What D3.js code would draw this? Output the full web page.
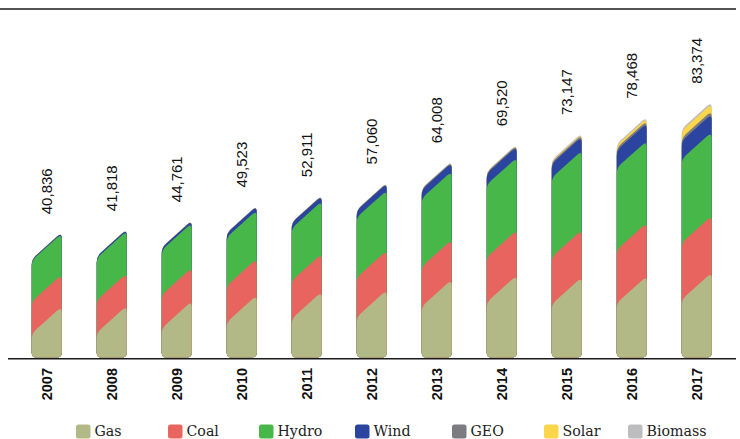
<!DOCTYPE html>
<html>
<head>
<meta charset="utf-8">
<script src="https://cdn.jsdelivr.net/npm/d3@7"></script>
<style>
  body { margin: 0; background: #fff; }
  svg { display: block; }
</style>
</head>
<body>
<svg id="chart" width="740" height="439"></svg>
<script>
// Installed capacity by source (MW), 2007–2017
const years   = ["2007","2008","2009","2010","2011","2012","2013","2014","2015","2016","2017"];
const totals  = [40836, 41818, 44761, 49523, 52911, 57060, 64008, 69520, 73147, 78468, 83374];
const gas     = [16631, 16837, 18358, 20271, 21416, 21970, 25408, 26814, 26158, 26529, 27703];
const coal    = [10400, 10600, 10900, 11900, 12400, 12900, 13000, 14700, 15400, 17400, 18500];
const hydro   = [13395, 13829, 14553, 15831, 17137, 19609, 22289, 23643, 25868, 26681, 27273];
const wind    = [345, 480, 792, 1320, 1729, 2261, 2760, 3630, 4503, 5751, 5900];
const geo     = [23, 30, 77, 94, 114, 162, 311, 405, 624, 821, 1064];
const solar   = [0, 0, 0, 0, 0, 0, 3, 40, 249, 819, 2300];
const biomass = [42, 42, 81, 107, 115, 158, 237, 288, 345, 467, 634];

const seriesNames  = ["Gas", "Coal", "Hydro", "Wind", "GEO", "Solar", "Biomass"];
const seriesValues = [gas, coal, hydro, wind, geo, solar, biomass];
const seriesColors = ["#b2b986", "#e8645f", "#47b74a", "#2a44a0", "#7c7c80", "#fbd54a", "#bdbdc0"];

// legend slot offsets (px from the left edge)
const legendX = [76, 168, 259, 355, 452, 544, 628];

const svg = d3.select("#chart");

const x = d3.scaleBand()
  .domain(years)
  .range([14.2, 729.2])
  .paddingInner(0.5385)
  .paddingOuter(0.2692);

const y = d3.scaleLinear().domain([0, 90000]).range([357.5, 81.4]);

const rows = years.map((yr, i) => {
  const r = { year: yr };
  seriesNames.forEach((s, k) => r[s] = seriesValues[k][i]);
  return r;
});
const stacked = d3.stack().keys(seriesNames)(rows);

// frame line across the top
svg.append("line").attr("x1", 0).attr("x2", 736).attr("y1", 9).attr("y2", 9)
  .attr("stroke", "#1a1a1a").attr("stroke-width", 1.4);

// bar with flat rounded bottom and slanted, rounded top
const skew = 27, rTop = 6, rBot = 5;
function barPath(x0, w, yb, yr) {
  const x1 = x0 + w, yl = yr + skew;
  const len = Math.hypot(w, skew), ux = w / len, uy = skew / len;
  return `M${x0},${yb - rBot}` +
    `L${x0},${yl + rTop}` +
    `Q${x0},${yl} ${x0 + ux * rTop},${yl - uy * rTop}` +
    `L${x1 - ux * rTop},${yr + uy * rTop}` +
    `Q${x1},${yr} ${x1},${yr + rTop}` +
    `L${x1},${yb - rBot}` +
    `Q${x1},${yb} ${x1 - rBot},${yb}` +
    `L${x0 + rBot},${yb}` +
    `Q${x0},${yb} ${x0},${yb - rBot}Z`;
}

const bars = svg.append("g");
years.forEach((yr, i) => {
  const g = bars.append("g");
  // cumulative shapes, tallest first so lower layers sit in front
  for (let k = stacked.length - 1; k >= 0; k--) {
    const d = stacked[k][i];
    g.append("path")
      .attr("d", barPath(x(yr), x.bandwidth(), y(0), y(d[1])))
      .attr("fill", seriesColors[k]);
  }
});

// baseline
svg.append("line").attr("x1", 8).attr("x2", 736).attr("y1", 358.8).attr("y2", 358.8)
  .attr("stroke", "#1a1a1a").attr("stroke-width", 1.4);

// total labels
const fmt = d3.format(",");
svg.append("g").selectAll("text").data(years).join("text")
  .attr("transform", (d, i) => `translate(${x(d) + x.bandwidth() / 2},${y(totals[i]) - 18}) rotate(-90)`)
  .attr("dy", "0.35em")
  .attr("text-anchor", "start")
  .attr("font-family", "'Liberation Sans', Arial, sans-serif")
  .attr("font-size", 15)
  .attr("fill", "#111")
  .text((d, i) => fmt(totals[i]));

// year labels
svg.append("g").selectAll("text").data(years).join("text")
  .attr("transform", d => `translate(${x(d) + x.bandwidth() / 2},368) rotate(-90)`)
  .attr("dy", "0.35em")
  .attr("text-anchor", "end")
  .attr("font-family", "'Liberation Sans', Arial, sans-serif")
  .attr("font-size", 14.5)
  .attr("font-weight", "bold")
  .attr("fill", "#111")
  .text(d => d);

// legend
const legend = svg.append("g").selectAll("g").data(seriesNames).join("g")
  .attr("transform", (d, i) => `translate(${legendX[i]},424.5)`);
legend.append("rect")
  .attr("width", 14.5).attr("height", 14).attr("rx", 2.5)
  .attr("fill", (d, i) => seriesColors[i]);
legend.append("text")
  .attr("x", 18.5).attr("y", 11.3)
  .attr("font-family", "'DejaVu Serif', serif")
  .attr("font-size", 14.2)
  .attr("fill", "#222")
  .text(d => d);
</script>
</body>
</html>
